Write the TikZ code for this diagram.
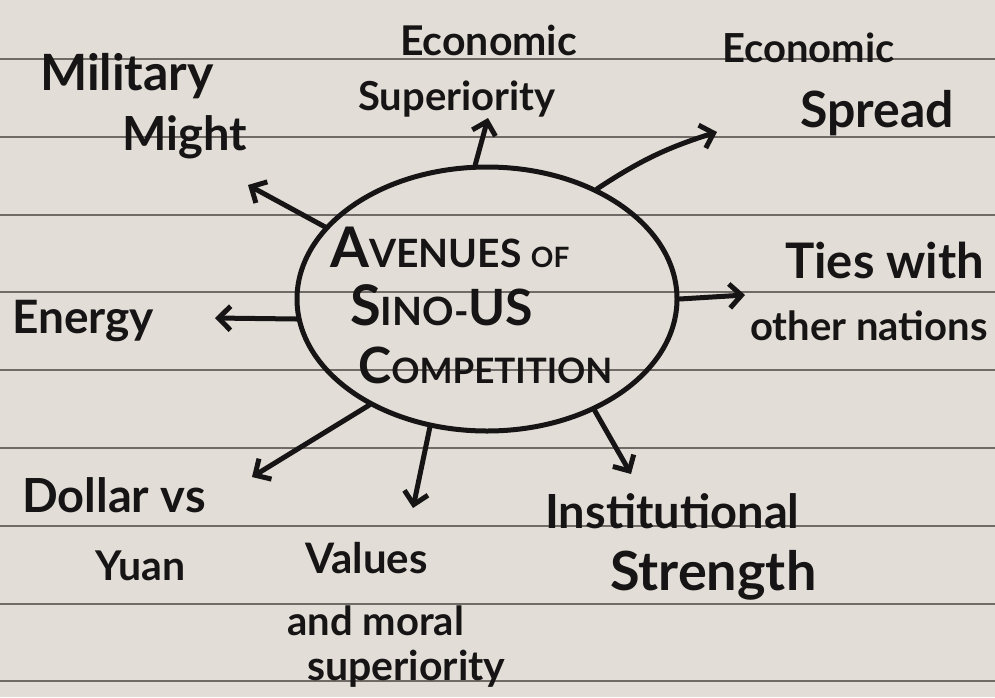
\documentclass[tikz,border=0pt]{standalone}
\usepackage{fontspec}
\setmainfont{Lato}
\usepackage{tikz}
\usetikzlibrary{arrows.meta, shapes.geometric}
\definecolor{paper}{RGB}{226,222,215}
\definecolor{ruling}{RGB}{112,107,102}
\definecolor{ink}{RGB}{22,20,20}
\newcommand*{\fsz}[1]{\fontsize{#1}{#1}\selectfont}
\newcommand*{\initcap}[2]{{\fsz{56}#1}{\fsz{39}#2}}
\tikzstyle{hand}=[font=\bfseries\fsz{39}, text=ink, inner sep=0pt, anchor=base west]
\tikzstyle{hub}=[ellipse, draw=ink, line width=5pt, minimum width=380pt, minimum height=264pt, inner sep=0pt]
\tikzstyle{arrow}=[draw=ink, line width=5pt, line cap=round, line join=round, -{Straight Barb[length=12pt, width=24pt]}]
\tikzstyle{rule}=[ruling, line width=2pt]

\begin{document}
\begin{tikzpicture}[x=1pt, y=-1pt]
        % Paper and ruled lines
        \fill[paper] (0,0) rectangle (995,697);
        \useasboundingbox (0,0) rectangle (995,697);
        \foreach \k in {0,...,8}{
            \draw[rule] (0,{59+77.8*\k}) -- (995,{59+77.8*\k});
        }

        % Central bubble
        \node[hub] (hub) at (487,299) {};
        \node[hand] (hubA) at (330,267) {\initcap{A}{VENUES} {\fsz{28}OF}};
        \node[hand] (hubB) at (350,325) {\initcap{S}{INO}-{\fsz{50}US}};
        \node[hand] (hubC) at (358,383) {{\fsz{50}C}{\fsz{35}OMPETITION}};

        % Label lines around the bubble
        \foreach \name/\x/\y/\size/\content in {
            milA/40/90/50/Military, milB/122/150/47/Might,
            supA/400/55/41/Economic, supB/358/110/40/Superiority,
            sprA/722/62/40/Economic, sprB/800/127/50/Spread,
            tieA/785/278/49/Ties with, tieB/750/340/40/other nations,
            ene/12/333/46/Energy,
            dolA/22/512/47/Dollar vs, dolB/95/580/41/Yuan,
            valA/305/573/42/Values, valB/287/635/40/and moral, valC/307/680/41/superiority,
            insA/545/528/47/Institutional, insB/610/590/54/Strength
        }{
            \node[hand, font={\bfseries\fsz{\size}}] (\name) at (\x,\y) {\content};
        }

        % Arrow tips
        \coordinate (milTip) at (248,185);
        \coordinate (supTip) at (488,118);
        \coordinate (sprTip) at (717,132);
        \coordinate (tieTip) at (745,295);
        \coordinate (eneTip) at (215,318);
        \coordinate (dolTip) at (252,477);
        \coordinate (valTip) at (413,508);
        \coordinate (insTip) at (631,474);

        % Arrows out of the bubble
        \foreach \ang/\tip in {156/milTip, 95/supTip, 0/tieTip, 186/eneTip,
                               222/dolTip, 246/valTip, 314/insTip}{
            \draw[arrow] (hub.\ang) -- (\tip);
        }
        \draw[arrow] (hub.45) to[bend left=8] (sprTip);
\end{tikzpicture}
\end{document}
